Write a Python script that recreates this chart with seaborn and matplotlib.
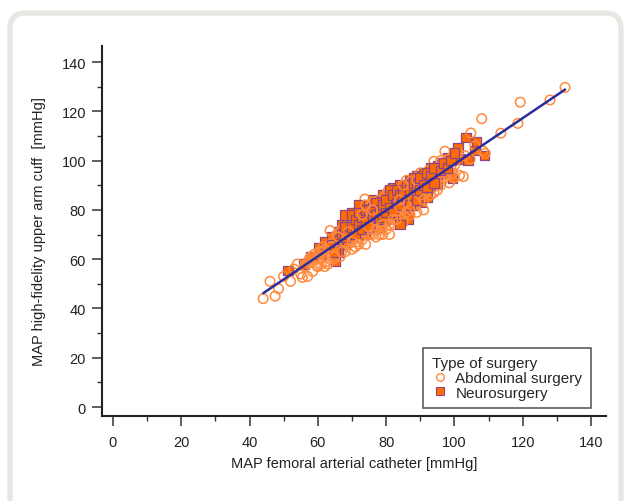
import numpy as np
import pandas as pd
import seaborn as sns
import matplotlib.pyplot as plt
from matplotlib.lines import Line2D
from matplotlib.patches import FancyBboxPatch
from matplotlib.ticker import MultipleLocator

# abdominal surgery (open circles)
abd_x = [44, 46, 47.5, 48.5, 50, 52, 53, 54, 55, 55.5,
         56, 57, 57.5, 58, 58.5, 59, 59.7, 60, 60.5, 61, 61.5, 62, 62.5, 63, 63, 63.5, 64, 64.5, 65, 65, 63.6,
         65.5, 66, 66.5, 67, 67, 67.5, 68, 68.5, 69, 69, 69.5, 70, 70, 70.5, 71, 71.5, 72, 72, 72.5, 73,
         73.5, 74, 74, 74.5, 75, 75, 68, 66, 71, 73, 73.8,
         75.5, 76, 76.5, 77, 77, 77.5, 78, 78, 78.5, 79, 79.5, 80, 80, 80.5, 81, 81, 81.5, 82, 82, 82.5,
         83, 83, 83.5, 84, 84, 84.5, 85, 85, 79, 76, 80.6,
         85.5, 86, 86.5, 87, 87, 87.5, 88, 88, 88.5, 89, 89.5, 90, 90, 90.5, 91, 91, 91.5, 92, 92.5, 93,
         93, 93.5, 94, 94.5, 95, 95, 89, 86,
         95.5, 96, 96.5, 97.2, 97.5, 98, 98.5, 99, 99.5, 100, 101, 101.5, 102.6, 103, 104.6, 104.8, 106,
         108, 108.3, 109,
         113.6, 118.6, 119.3, 128, 132.4,
         58, 59, 60, 61, 62, 64, 66, 67, 69, 70, 71, 72, 73, 74, 75, 76, 77, 78, 80, 81, 82, 83,
         84, 85, 86, 87, 88, 89, 90, 91, 92, 93, 94, 95, 96, 97, 98, 99, 100, 57, 62, 65, 68, 76,
         79, 84]
abd_y = [44, 51, 45, 48, 53, 51, 56, 58, 54, 52.6,
         57, 53, 60, 58.7, 55, 62, 57.3, 60, 63, 58, 65, 61, 59, 58, 64, 66, 62, 60, 67, 63, 71.6,
         70, 64, 61, 68, 72, 65, 63, 70, 74, 66, 68, 72, 64, 76, 70, 67, 73, 78, 69, 71,
         75, 66, 79, 72, 70, 76, 71, 66, 74, 68, 84.4,
         80, 73, 77, 82, 69, 75, 79, 84, 72, 77, 81, 75, 86, 79, 83, 70, 77, 81, 88, 74,
         79, 85, 82, 77, 87, 80, 84, 75, 70, 83, 87.8,
         89, 81, 86, 91, 78, 84, 88, 93, 82, 86, 90, 84, 95, 88, 92, 80, 87, 90, 96, 86,
         93, 89, 99.7, 91, 88, 97, 79, 92,
         93, 100, 92, 103.8, 96, 99, 91, 101, 95, 98, 103, 94, 93.5, 102, 100.6, 111.2, 106,
         117, 104, 103,
         111.1, 115.1, 123.7, 124.6, 129.7,
         61, 60, 57, 63, 64, 65, 69, 63, 71, 67, 65, 66, 78, 82, 73, 70, 72, 70, 72, 74, 76, 76,
         81, 90, 79, 80, 84, 92, 86, 84, 88, 91, 87, 94, 90, 93, 95, 97, 93, 59, 57, 61, 67, 80,
         74, 84]

# neurosurgery (filled squares)
neuro_x = [51.2, 56, 58, 60.3, 61, 62, 63, 64, 65.2, 65, 66, 67, 67, 68, 69, 69, 70, 70, 71, 71,
           72, 72, 73, 73, 74, 74, 75, 75, 76, 76, 77, 77, 78, 78, 79, 79, 80, 80, 81, 81,
           82, 82, 83, 83, 84, 84, 85, 85.5, 86, 86.5, 87, 87, 88, 88, 89, 89, 90.4, 90, 91, 91,
           92, 92, 93, 93, 94, 95, 95, 96.3, 97, 98, 99.5, 101, 101.6, 103.4, 104, 106, 106.5,
           108.8, 69.9, 68, 72, 66, 84, 88,
           64, 65, 66, 67, 68, 68, 69, 70, 70, 71, 71, 72, 72, 73, 73, 74, 74, 75, 75, 76, 76,
           77, 77, 78, 78, 79, 79, 80, 80, 81, 81, 82, 82, 83, 83, 84, 84, 85, 85, 86, 86, 87,
           87, 88, 88, 89, 89, 90, 90, 91, 92, 92, 93, 94, 94, 96, 97, 98, 99, 100]
neuro_y = [55.3, 58, 61, 64.8, 62, 67, 64, 69, 59, 66, 71, 68, 74, 66, 72, 77, 69, 75, 73, 79,
           71, 76, 80, 74, 77, 70, 82, 78, 74, 84, 80, 76, 83, 73, 79, 86, 81, 76, 85, 78,
           83, 89, 80, 86, 78, 90, 84, 79, 88, 76.3, 92, 85, 89, 82, 94, 87, 83, 91, 95, 88,
           92, 85, 97, 90, 94, 98, 91, 99.3, 95, 101, 92.9, 105.4, 100.6, 109.4, 100.2, 104, 107.8,
           102, 79, 78, 82, 63, 74, 93,
           66, 63, 68, 70, 73, 69, 70, 73, 78, 76, 70, 74, 79, 77, 72, 80, 75, 73, 80, 78, 81,
           83, 78, 80, 76, 82, 77, 84, 79, 81, 88, 86, 79, 83, 88, 86, 82, 88, 86, 84, 90, 88,
           82, 86, 91, 90, 84, 88, 93, 90, 95, 89, 94, 91, 97, 96, 99, 97, 100, 103]

groups = ["Abdominal surgery", "Neurosurgery"]
CIRCLE_EDGE = "#ff8a3d"
SQUARE_FACE = "#ff6a00"
SQUARE_EDGE = "#8e4688"
LINE_COLOR = "#2d2d9c"

abd = pd.DataFrame({"femoral": abd_x, "cuff": abd_y, "surgery": groups[0]})
neuro = pd.DataFrame({"femoral": neuro_x, "cuff": neuro_y, "surgery": groups[1]})
abd["order"] = np.arange(len(abd)) / len(abd)
neuro["order"] = np.arange(len(neuro)) / len(neuro)
# interleave the two groups so that neither sits wholly on top of the other
df = pd.concat([abd, neuro]).sort_values("order", kind="mergesort").reset_index(drop=True)

sns.set_theme(style="ticks")
plt.rcParams["font.family"] = ["Liberation Sans", "DejaVu Sans"]

fig = plt.figure(figsize=(6.24, 5.02), dpi=100)
ax = fig.add_axes([102 / 624, 1 - 417 / 502, 504 / 624, 370 / 502])

# light rounded panel behind the chart
panel = FancyBboxPatch((10, -40), 611, 528, boxstyle="round,pad=0,rounding_size=16",
                       transform=None, facecolor="white", edgecolor="#e8e6e1", linewidth=3.8,
                       zorder=-10)
fig.patches.append(panel)

sns.scatterplot(data=df, x="femoral", y="cuff", hue="surgery", style="surgery",
                markers={groups[0]: "o", groups[1]: "s"},
                palette={groups[0]: "white", groups[1]: SQUARE_FACE},
                s=47, linewidth=1.0, ax=ax, legend=False, zorder=2)
pts = ax.collections[0]
is_abd = (df["surgery"] == groups[0]).to_numpy()
# circles are open: no fill, orange ring
pts.set_facecolors([(0, 0, 0, 0) if a else SQUARE_FACE for a in is_abd])
pts.set_edgecolors([CIRCLE_EDGE if a else SQUARE_EDGE for a in is_abd])
pts.set_linewidths([1.1 if a else 0.9 for a in is_abd])

sns.regplot(data=df, x="femoral", y="cuff", ax=ax, scatter=False, ci=None,
            line_kws={"color": LINE_COLOR, "linewidth": 1.8, "zorder": 4})

ax.set_xlim(-3.2, 144.4)
ax.set_ylim(-3.65, 146.5)
ax.xaxis.set_major_locator(MultipleLocator(20))
ax.xaxis.set_minor_locator(MultipleLocator(10))
ax.yaxis.set_major_locator(MultipleLocator(20))
ax.yaxis.set_minor_locator(MultipleLocator(10))
ax.tick_params(which="major", direction="out", length=7.5, width=1.1, color="#333333",
               labelsize=10.5, labelcolor="#222222")
ax.tick_params(axis="x", which="major", pad=6)
ax.tick_params(axis="y", which="major", pad=4)
ax.tick_params(which="minor", direction="out", length=3.8, width=1.0, color="#333333")
sns.despine(ax=ax)
for side in ["left", "bottom"]:
    ax.spines[side].set_linewidth(1.5)
    ax.spines[side].set_color("#222222")

ax.set_xlabel("MAP femoral arterial catheter [mmHg]", fontsize=10.5, color="#222222", labelpad=5)
ax.set_ylabel("MAP high-fidelity upper arm cuff  [mmHg]", fontsize=10.5, color="#222222", labelpad=11)

handles = [
    Line2D([], [], linestyle="none", marker="o", markersize=5.5, markerfacecolor="none",
           markeredgecolor=CIRCLE_EDGE, markeredgewidth=1.0),
    Line2D([], [], linestyle="none", marker="s", markersize=5.5, markerfacecolor=SQUARE_FACE,
           markeredgecolor=SQUARE_EDGE, markeredgewidth=0.8),
]
leg = ax.legend(handles, groups, title="Type of surgery", loc="lower right",
                bbox_to_anchor=(0.97, 0.021), frameon=True, fancybox=False,
                edgecolor="#222222", fontsize=11, title_fontsize=11, alignment="left",
                handletextpad=0.45, handlelength=1.1, borderpad=0.55,
                labelspacing=0.05, borderaxespad=0)
leg.get_frame().set_linewidth(1.1)

fig.savefig("out.png", dpi=100)
